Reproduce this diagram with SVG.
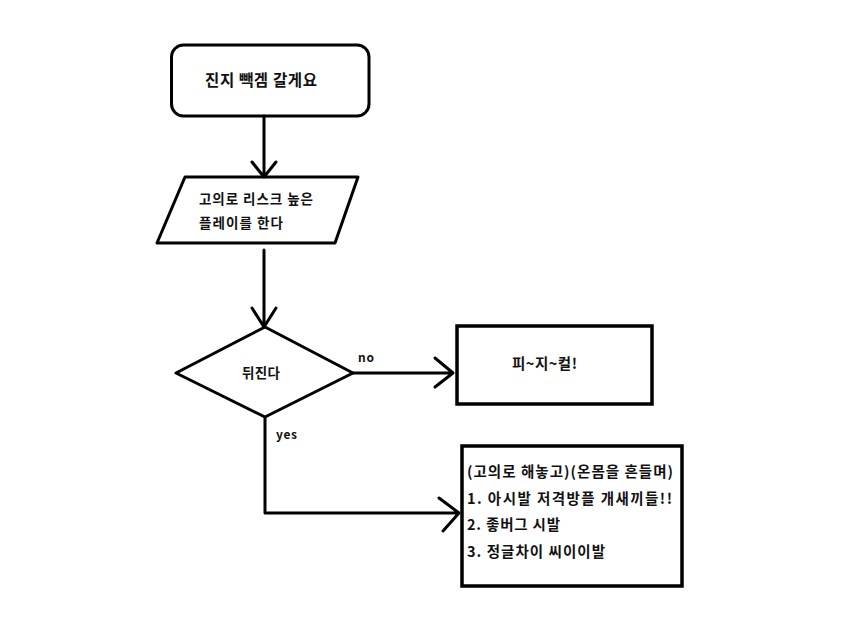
<svg xmlns="http://www.w3.org/2000/svg" width="850" height="634" viewBox="0 0 850 634">
<style>
.shape{fill:#fff;stroke:#000;stroke-width:3;stroke-linejoin:round}
.box{fill:#fff;stroke:#000;stroke-width:3.5}
.line{fill:none;stroke:#000;stroke-width:3;stroke-linecap:round;stroke-linejoin:round}
text{font-family:"Noto Sans CJK KR","Malgun Gothic",sans-serif;font-weight:bold;fill:#111}
.t15{font-size:15.5px}
.t13{font-size:13.5px}
.t14{font-size:14.5px}
.lab{font-size:12px}
</style>
<rect width="850" height="634" fill="#fff"/>
<g id="start">
<rect class="shape" x="171.5" y="45" width="197.5" height="71" rx="12" ry="12"/>
<text class="t15" x="205" y="86" textLength="112" lengthAdjust="spacing">진지 빽겜 갈게요</text>
</g>
<g id="decision-play">
<polygon class="shape" points="185,177 358,177 335,243 157,243"/>
<text class="t13" x="199" y="204" textLength="114" lengthAdjust="spacing">고의로 리스크 높은</text>
<text class="t13" x="199" y="228" textLength="84" lengthAdjust="spacing">플레이를 한다</text>
</g>
<g id="dies">
<polygon class="shape" points="265,327 353,373 265,417 176,373"/>
<text class="t13" x="242" y="378" textLength="38" lengthAdjust="spacing">뒤진다</text>
</g>
<g id="physical">
<rect class="box" x="457" y="326" width="195" height="78"/>
<text class="t14" x="512" y="369" textLength="65" lengthAdjust="spacing">피~지~컬!</text>
</g>
<g id="excuses">
<rect class="box" x="462" y="446" width="220" height="140"/>
<text class="t14" x="467" y="477" textLength="206" lengthAdjust="spacing">(고의로 해놓고)(온몸을 흔들며)</text>
<text class="t14" x="467" y="504" textLength="205" lengthAdjust="spacing">1. 아시발 저격방플 개새끼들!!</text>
<text class="t14" x="467" y="530" textLength="93" lengthAdjust="spacing">2. 좋버그 시발</text>
<text class="t14" x="467" y="557" textLength="138" lengthAdjust="spacing">3. 정글차이 씨이이발</text>
</g>
<g id="connectors">
<path class="line" d="M264,116 V177 M252,162 L264,177 L276,162"/>
<path class="line" d="M264,250 V327 M252,308 L264,327 L276,308"/>
<path class="line" d="M353,373 H453 M435,358 L453,373 L435,387"/>
<path class="line" d="M265,417 V513 H459 M439,498 L459,513 L443,531"/>
<text class="lab" x="358" y="362" textLength="16" lengthAdjust="spacing">no</text>
<text class="lab" x="276" y="439" textLength="21" lengthAdjust="spacing">yes</text>
</g>
</svg>
